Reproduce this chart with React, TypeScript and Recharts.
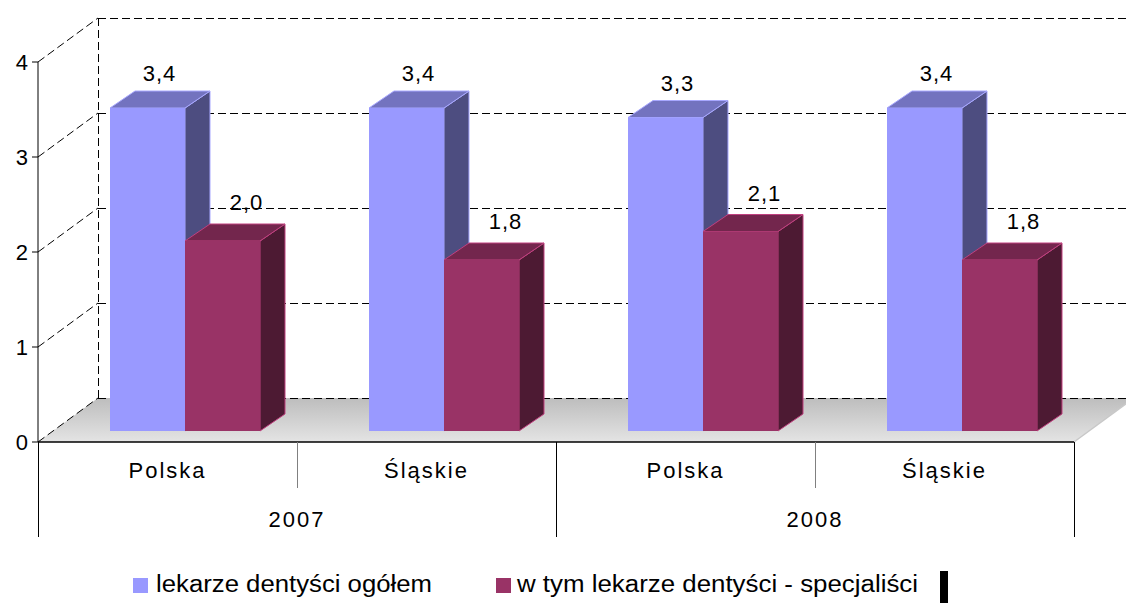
import React from 'react';
import { BarChart, Bar, XAxis, YAxis, CartesianGrid, LabelList } from 'recharts';

const regions = ['Polska', 'Śląskie', 'Polska', 'Śląskie'];
const years = ['2007', '2007', '2008', '2008'];
const ogolem = [3.4, 3.4, 3.3, 3.4];
const specjalisci = [2.0, 1.8, 2.1, 1.8];
const yTicks = [0, 1, 2, 3, 4];
const seriesNames = ['lekarze dentyści ogółem', 'w tym lekarze dentyści - specjaliści'];

const data = regions.map((r, i) => ({
  region: r,
  year: years[i],
  ogolem: ogolem[i],
  specjalisci: specjalisci[i],
}));

const FONT = '"Liberation Sans", Arial, sans-serif';
const W = 1126;
const H = 603;
// wall depth (oblique projection)
const DX = 60;
const DY = 44;
// bar placement inside the depth
const BX = 17;
const BY = -11;
// bar own depth
const TX = 25;
const TY = -17;

const BLUE = { front: '#9999FF', top: '#7373BF', side: '#4D4D80', stroke: '#A8A8FF' };
const RED = { front: '#993366', top: '#73264D', side: '#4D1A33', stroke: '#C0407F' };

const fmt = (v: number) => v.toFixed(1).replace('.', ',');

const makeShape = (c: typeof BLUE) => (p: any) => {
  const { x, y, width, height } = p;
  if (width == null || height == null) return <g />;
  const fx = x + BX;
  const fy = y + BY;
  const w = width;
  const h = height;
  return (
    <g>
      <polygon
        points={`${fx + w},${fy} ${fx + w + TX},${fy + TY} ${fx + w + TX},${fy + h + TY} ${fx + w},${fy + h}`}
        fill={c.side}
        stroke={c.stroke}
        strokeWidth={1}
        strokeLinejoin="round"
      />
      <polygon
        points={`${fx},${fy} ${fx + TX},${fy + TY} ${fx + w + TX},${fy + TY} ${fx + w},${fy}`}
        fill={c.top}
        stroke={c.stroke}
        strokeWidth={1}
        strokeLinejoin="round"
      />
      <rect x={fx} y={fy} width={w} height={h} fill={c.front} />
    </g>
  );
};

const makeLabel = (offX: number, gap: number) => (p: any) => {
  const { x, y, width, value } = p;
  const cx = x + BX + width / 2 + offX;
  const by = y + BY + TY - gap;
  return (
    <text x={cx} y={by} textAnchor="middle" fontSize={22} letterSpacing={1} fontFamily={FONT} fill="#000">
      {fmt(Number(value))}
    </text>
  );
};

const renderGridLine = (p: any) => {
  const { x1, y1, x2, index } = p;
  const top = p.y;
  const bottom = p.y + p.height;
  const isFloor = Math.abs(y1 - bottom) < 1;
  const bx = x1 + DX;
  const by = y1 - DY;
  const dash = '8 4';
  return (
    <g key={`gl-${index}`}>
      {isFloor && (
        <defs>
          <linearGradient id="floorGrad" x1="0" y1="0" x2="0" y2="1">
            <stop offset="0%" stopColor="#BDBDBD" />
            <stop offset="100%" stopColor="#E4E4E4" />
          </linearGradient>
        </defs>
      )}
      {isFloor && (
        <polygon
          points={`${x1},${y1} ${bx},${by} ${x2 + DX},${by} ${x2},${y1}`}
          fill="url(#floorGrad)"
        />
      )}
      {isFloor && (
        <line x1={x2} y1={y1} x2={x2 + DX} y2={by} stroke="#C8C8C8" strokeWidth={1.5} />
      )}
      <line x1={x1} y1={y1} x2={bx} y2={by} stroke="#000" strokeWidth={1} strokeDasharray={dash} />
      <line
        x1={bx}
        y1={by}
        x2={x2 + DX}
        y2={by}
        stroke="#000"
        strokeWidth={1}
        strokeDasharray={dash}
        shapeRendering="crispEdges"
      />
      {isFloor && (
        <line
          x1={bx}
          y1={by}
          x2={bx}
          y2={top - DY}
          stroke="#000"
          strokeWidth={1}
          strokeDasharray={dash}
          shapeRendering="crispEdges"
        />
      )}
    </g>
  );
};

const XTick = (p: any) => {
  const { x, y, payload, index } = p;
  const count = p.visibleTicksCount || regions.length;
  const catW = p.width ? p.width / count : 259;
  const i = payload?.index ?? index;
  const right = x + catW / 2;
  const left = x - catW / 2;
  const groupEnd = i % 2 === 1;
  return (
    <g>
      {i === 0 && (
        <line x1={left} y1={y} x2={left} y2={y + 95} stroke="#000" strokeWidth={1} shapeRendering="crispEdges" />
      )}
      {groupEnd ? (
        <line x1={right} y1={y} x2={right} y2={y + 95} stroke="#000" strokeWidth={1} shapeRendering="crispEdges" />
      ) : (
        <line x1={right} y1={y} x2={right} y2={y + 46} stroke="#808080" strokeWidth={1} shapeRendering="crispEdges" />
      )}
      <text x={x} y={y + 36} textAnchor="middle" fontSize={22} letterSpacing={2} fontFamily={FONT} fill="#000">
        {payload.value}
      </text>
      {!groupEnd && (
        <text x={right} y={y + 85} textAnchor="middle" fontSize={22} letterSpacing={2} fontFamily={FONT} fill="#000">
          {years[i]}
        </text>
      )}
    </g>
  );
};

export default function App() {
  return (
    <div style={{ position: 'absolute', left: 0, top: 0, width: W, height: H, background: '#fff' }}>
      <BarChart
        width={W}
        height={H}
        data={data}
        margin={{ top: 62, right: 52, left: 0, bottom: 0 }}
        barSize={75}
        barGap={0}
      >
        <CartesianGrid horizontal={renderGridLine} vertical={false} />
        <XAxis
          dataKey="region"
          height={161}
          axisLine={{ stroke: '#000', strokeWidth: 1.5 }}
          tickLine={false}
          tickSize={0}
          tickMargin={0}
          tick={<XTick />}
          interval={0}
        />
        <YAxis
          domain={[0, 4]}
          ticks={yTicks}
          width={38}
          axisLine={{ stroke: '#000', strokeWidth: 1 }}
          tickLine={{ stroke: '#000' }}
          tickSize={6}
          tickMargin={4}
          tick={{ fontSize: 22, fontFamily: FONT, fill: '#000' }}
        />
        <Bar dataKey="ogolem" name={seriesNames[0]} fill={BLUE.front} shape={makeShape(BLUE)} isAnimationActive={false}>
          <LabelList dataKey="ogolem" content={makeLabel(12, 10)} />
        </Bar>
        <Bar dataKey="specjalisci" name={seriesNames[1]} fill={RED.front} shape={makeShape(RED)} isAnimationActive={false}>
          <LabelList dataKey="specjalisci" content={makeLabel(24, 14)} />
        </Bar>
      </BarChart>
      <svg width={W} height={60} style={{ position: 'absolute', left: 0, top: H - 60 }}>
        <rect x={133} y={35} width={15} height={15} fill={BLUE.front} />
        <text x={156} y={49} fontSize={23} fontFamily={FONT} fill="#000" textLength={276} lengthAdjust="spacingAndGlyphs">
          {seriesNames[0]}
        </text>
        <rect x={496} y={35} width={15} height={15} fill={RED.front} />
        <text x={517} y={49} fontSize={23} fontFamily={FONT} fill="#000" textLength={401} lengthAdjust="spacingAndGlyphs">
          {seriesNames[1]}
        </text>
        <rect x={940} y={28} width={8} height={32} fill="#000" />
      </svg>
    </div>
  );
}
